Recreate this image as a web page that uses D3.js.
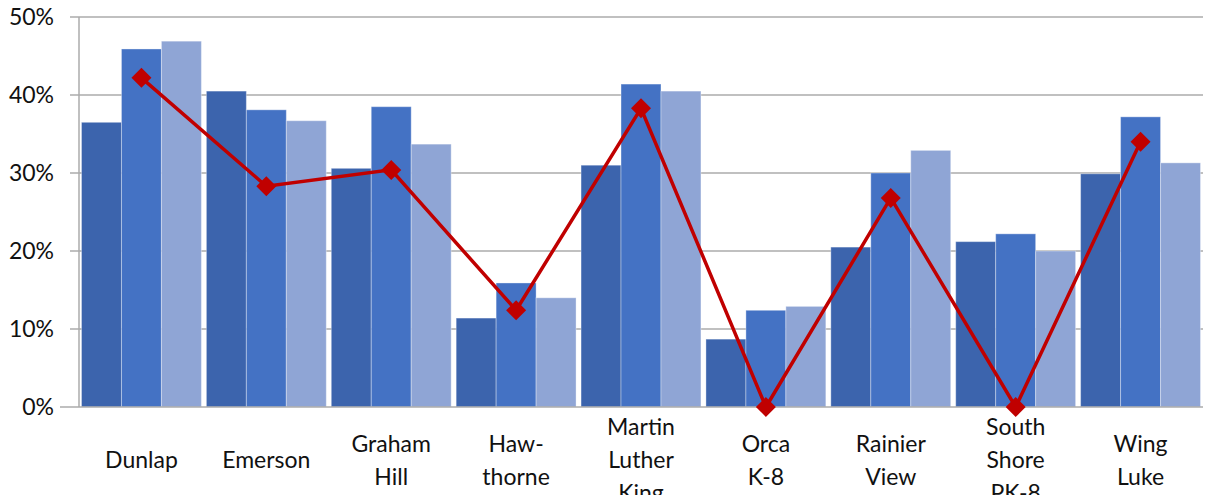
<!DOCTYPE html>
<html><head><meta charset="utf-8">
<script src="https://cdn.jsdelivr.net/npm/d3@7"></script>
<style>body{margin:0;background:#fff}svg{display:block}</style>
</head><body>
<script>
const categories = [["Dunlap"],["Emerson"],["Graham","Hill"],["Haw-","thorne"],["Martin","Luther","King"],["Orca","K-8"],["Rainier","View"],["South","Shore","PK-8"],["Wing","Luke"]];
const series1 = [36.5,40.5,30.6,11.4,31.0,8.7,20.5,21.2,29.9];
const series2 = [45.9,38.1,38.5,15.9,41.4,12.4,30.0,22.2,37.2];
const series3 = [46.9,36.7,33.7,14.0,40.5,12.9,32.9,20.0,31.3];
const lineVals = [42.2,28.3,30.4,12.4,38.3,0,26.8,0,34.0];
const yTicks = [0,10,20,30,40,50];

(function(){
const W=1213,H=495;
const svg=d3.select("body").append("svg").attr("width",W).attr("height",H);
const pl=79,pr=1203,pt=17,pb=407;
const x=d3.scaleBand().domain(d3.range(categories.length)).range([pl,pr]).paddingInner(0.04).paddingOuter(0.02);
const y=d3.scaleLinear().domain([0,50]).range([pb,pt]);
const colors=["#3C64AD","#4472C4","#8FA5D5"];
const font="Lato, 'Open Sans', sans-serif";

svg.append("g").selectAll("line").data(yTicks.filter(d=>d>0)).join("line")
 .attr("x1",70).attr("x2",pr).attr("y1",d=>y(d)).attr("y2",d=>y(d))
 .attr("stroke","#ababab").attr("stroke-width",1.5);
svg.append("g").selectAll("text").data(yTicks).join("text")
 .attr("x",54).attr("y",d=>y(d)).attr("dy","0.36em").attr("text-anchor","end")
 .attr("font-family",font).attr("font-size",23).attr("fill","#111").text(d=>d+"%");
svg.append("line").attr("x1",pl).attr("x2",pl).attr("y1",pt).attr("y2",pb).attr("stroke","#ababab").attr("stroke-width",1.5);

const xs=d3.scaleBand().domain([0,1,2]).range([0,x.bandwidth()]);
const all=[series1,series2,series3];
all.forEach((s,si)=>{
  svg.append("g").selectAll("rect").data(s).join("rect")
   .attr("x",(d,i)=>x(i)+xs(si)).attr("width",xs.bandwidth())
   .attr("y",d=>y(d)).attr("height",d=>pb-y(d))
   .attr("fill",colors[si]).attr("stroke","rgba(255,255,255,0.35)").attr("stroke-width",1);
});
svg.append("line").attr("x1",60).attr("x2",pr).attr("y1",pb).attr("y2",pb).attr("stroke","#ababab").attr("stroke-width",1.5);

const cx=i=>x(i)+x.bandwidth()/2;
svg.append("path").datum(lineVals)
 .attr("d",d3.line().x((d,i)=>cx(i)).y(d=>y(d)))
 .attr("fill","none").attr("stroke","#C00000").attr("stroke-width",3.5);
svg.append("g").selectAll("path").data(lineVals).join("path")
 .attr("d",d3.symbol(d3.symbolSquare,200))
 .attr("transform",(d,i)=>`translate(${cx(i)},${y(d)}) rotate(45)`)
 .attr("fill","#C00000");

const lh=33;
const g=svg.append("g");
categories.forEach((c,i)=>{
  const t=g.append("text").attr("x",cx(i)).attr("text-anchor","middle")
   .attr("font-family",font).attr("font-size",23).attr("fill","#111");
  const y0=460-(c.length-1)*lh/2;
  c.forEach((s,j)=>t.append("tspan").attr("x",cx(i)).attr("y",y0+j*lh).attr("dy","0.35em").text(s));
});
})();
</script>
</body></html>
